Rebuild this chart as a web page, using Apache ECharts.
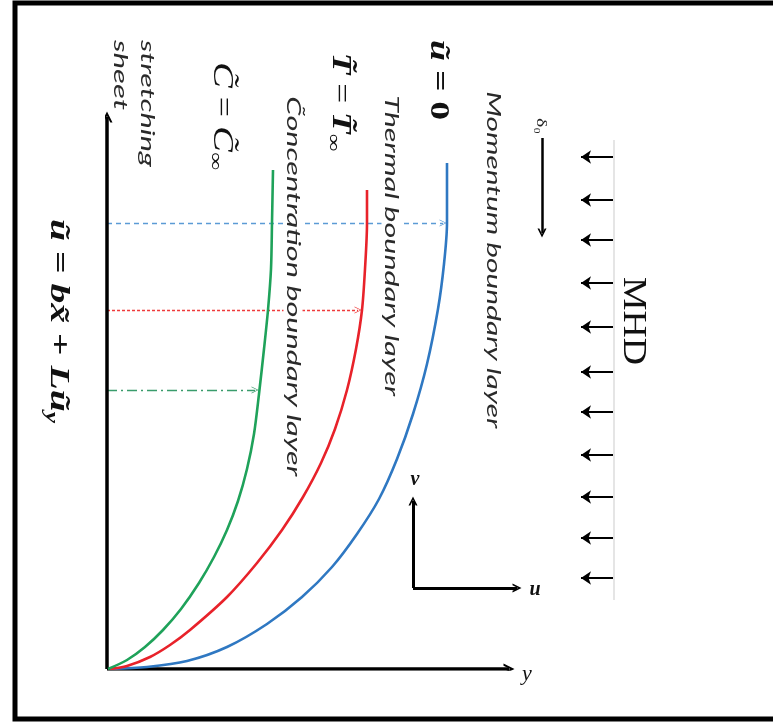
<!DOCTYPE html>
<html>
<head>
<meta charset="utf-8">
<script src="https://cdn.jsdelivr.net/npm/echarts@6/dist/echarts.min.js"></script>
<style>
  html, body { margin: 0; padding: 0; background: #fff; }
  #chart { width: 773px; height: 727px; }
</style>
</head>
<body>
<div id="chart"></div>
<script>
// diagram units: origin at the foot of the stretching sheet, x = distance from sheet, y = along sheet
const blueCurve = [[3, 0], [40, 2], [80, 8], [120, 22], [160, 45], [195, 72], [225, 102], [250, 135], [272, 170],
  [290, 210], [306, 255], [320, 305], [331, 360], [337, 405], [340, 446], [340, 506]];
const redCurve = [[3, 0], [20, 3], [43, 12], [63, 24], [83, 39], [120, 72], [150, 106], [175, 139], [196, 172],
  [214, 206], [228, 240], [240, 279], [249, 320], [255, 359], [258, 400], [260, 446], [260, 479]];
const greenCurve = [[1, 0], [20, 9], [38, 22], [56, 39], [74, 60], [92, 86], [107, 112], [120, 139], [131, 168],
  [140, 200], [147, 235], [152, 275], [157, 320], [161, 359], [164, 400], [165, 446], [166, 499]];

// dashed guides from the sheet to each boundary layer edge
const blueGuide = [[0, 446], [336, 446]];
const redGuide = [[0, 359], [251, 359]];
const greenGuide = [[0, 279], [148, 279]];

// axes
const sheetAxis = [[0, 0], [0, 552]];
const normalAxis = [[0, 0], [402, 0]];
const vAxis = [[306, 81], [306, 168]];
const uAxis = [[306, 81], [410, 81]];
const deltaArrow = [[435, 531], [435, 436]];

// MHD field arrows
const mhdY = [512, 469, 429, 386, 342, 297, 257, 214, 172, 131, 91];
const mhdTail = 506, mhdHead = 474;
const mhdWall = [[507, 529], [507, 69]];

const chart = echarts.init(document.getElementById('chart'));

const chevron = 'path://M0,10 L10,0 L20,10 L16,10 L10,4 L4,10 Z';
const chevronThin = 'path://M0,10 L10,0 L20,10 L18,10 L10,2 L2,10 Z';

function arrows(segs, color, width, type, head, size) {
  return {
    type: 'lines',
    coordinateSystem: 'cartesian2d',
    silent: true,
    symbol: ['none', head],
    symbolSize: size,
    lineStyle: { color: color, width: width, type: type, opacity: 1, curveness: 0 },
    data: segs.map(s => ({ coords: s })),
    z: 3
  };
}

function curve(data, color) {
  return {
    type: 'line',
    data: data,
    smooth: 0.3,
    showSymbol: false,
    silent: true,
    lineStyle: { color: color, width: 2.6 },
    z: 4
  };
}

// text measuring so rotated labels can be stretched to the reference length
const mctx = document.createElement('canvas').getContext('2d');
function fit(str, font, len) {
  mctx.font = font;
  return len / mctx.measureText(str).width;
}

// rotated (reading top to bottom) text
function vtext(str, x, y, font, len, align, extra) {
  const plain = str.replace(/\{\w+\|/g, '').replace(/\}/g, '');
  return {
    type: 'text',
    x: x, y: y,
    rotation: -Math.PI / 2,
    scaleX: fit(plain, font, len),
    z: 100,
    style: Object.assign({
      text: str,
      font: font,
      fill: '#2a2a2a',
      align: align,
      verticalAlign: 'middle'
    }, extra || {})
  };
}

const sansI = 'italic 19px Lato, "Open Sans", sans-serif';
const serif = '"Liberation Serif", "DejaVu Serif", serif';
const cut = { backgroundColor: '#fff', padding: [0, 2] };

const graphics = [
  {
    type: 'rect',
    shape: { x: 15, y: 3, width: 800, height: 716 },
    style: { fill: 'none', stroke: '#000', lineWidth: 5 },
    z: 1
  },
  vtext('stretching', 147, 40, sansI, 127, 'left'),
  vtext('sheet', 120, 40, sansI, 70, 'left'),
  vtext('C̃oncentration boundary layer', 293, 93, sansI, 380, 'left', cut),
  vtext('Thermal boundary layer', 391, 92, sansI, 301, 'left', cut),
  vtext('Momentum boundary layer', 493, 88, sansI, 337, 'left', cut),
  vtext('{i|ũ} {r|= 0}', 438, 80, 'bold 27px ' + serif, 80, 'center', {
    fill: '#111',
    rich: {
      i: { font: 'bold italic 27px ' + serif, fill: '#111' },
      r: { font: 'bold 27px ' + serif, fill: '#111' }
    }
  }),
  vtext('{i|T̃} {r|=} {i|T̃}{s|∞}', 340, 102, 'bold 27px ' + serif, 110, 'center', {
    fill: '#111',
    rich: {
      i: { font: 'bold italic 27px ' + serif, fill: '#111', height: 30 },
      r: { font: '27px ' + serif, fill: '#111', height: 30 },
      s: { font: '19px ' + serif, fill: '#111', height: 30, padding: [14, 0, 0, 0] }
    }
  }),
  vtext('{i|C̃} {r|=} {i|C̃}{s|∞}', 222, 116, '27px ' + serif, 112, 'center', {
    fill: '#111',
    rich: {
      i: { font: 'italic 29px ' + serif, fill: '#111', height: 30 },
      r: { font: '27px ' + serif, fill: '#111', height: 30 },
      s: { font: '19px ' + serif, fill: '#111', height: 30, padding: [14, 0, 0, 0] }
    }
  }),
  vtext('{i|ũ} {r|=} {i|bx̃} {r|+} {i|Lũ}{s|y}', 58, 321, 'bold 28px ' + serif, 217, 'center', {
    fill: '#111',
    rich: {
      i: { font: 'bold italic 28px ' + serif, fill: '#111', height: 32 },
      r: { font: 'bold 28px ' + serif, fill: '#111', height: 32 },
      s: { font: 'bold italic 18px ' + serif, fill: '#111', height: 32, padding: [15, 0, 0, 0] }
    }
  }),
  vtext('MHD', 633, 321, '34px ' + serif, 88, 'center', { fill: '#111' }),
  vtext('δ₀', 541, 126, '15px ' + serif, 16, 'center', { fill: '#222' }),
  { type: 'text', x: 415, y: 480, z: 100, style: { text: 'v', font: 'bold italic 20px ' + serif, fill: '#111', align: 'center', verticalAlign: 'middle' } },
  { type: 'text', x: 535, y: 590, z: 100, style: { text: 'u', font: 'bold italic 20px ' + serif, fill: '#111', align: 'center', verticalAlign: 'middle' } },
  { type: 'text', x: 527, y: 674, z: 100, style: { text: 'y', font: 'italic 22px ' + serif, fill: '#111', align: 'center', verticalAlign: 'middle' } }
];

const option = {
  animation: false,
  backgroundColor: '#fff',
  grid: { left: 107, right: 0, top: 0, bottom: 58, containLabel: false },
  xAxis: { type: 'value', min: 0, max: 666, show: false },
  yAxis: { type: 'value', min: 0, max: 669, show: false },
  graphic: graphics,
  series: [
    arrows([mhdWall], '#dcdcdc', 1.5, 'solid', 'none', 1),
    curve(blueCurve, '#2f78c2'),
    curve(redCurve, '#e8222a'),
    curve(greenCurve, '#1fa25a'),
    arrows([blueGuide], '#5b9bd5', 1.4, [5, 4], chevronThin, [10, 7]),
    arrows([redGuide], '#ef3b3b', 1.4, [3, 2], chevronThin, [10, 7]),
    arrows([greenGuide], '#3a9c6c', 1.4, [10, 4, 2, 4], chevronThin, [10, 7]),
    arrows([sheetAxis, normalAxis], '#000', 3.5, 'solid', chevron, [18, 11]),
    arrows([vAxis, uAxis], '#000', 3, 'solid', chevron, [15, 9]),
    arrows([deltaArrow], '#000', 2.5, 'solid', chevron, [15, 9]),
    arrows(mhdY.map(y => [[mhdTail, y], [mhdHead, y]]), '#000', 2, 'solid', 'arrow', [9, 10])
  ]
};

chart.setOption(option);
window.addEventListener('resize', () => chart.resize());
</script>
</body>
</html>
